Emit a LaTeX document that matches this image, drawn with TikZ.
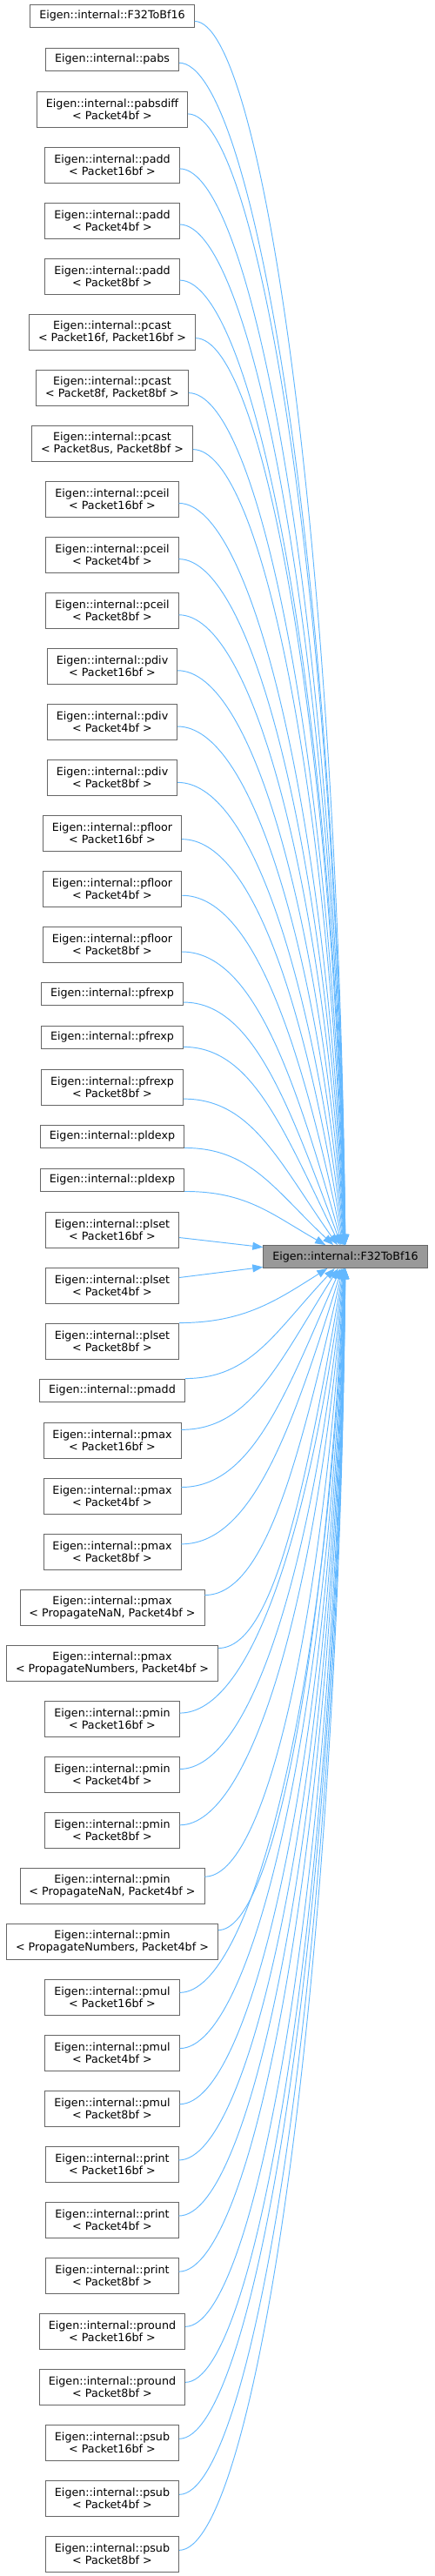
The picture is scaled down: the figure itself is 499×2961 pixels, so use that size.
\documentclass[tikz,border=0pt]{standalone}
\usepackage{fontspec}
\setmainfont{DejaVu Sans}
\usetikzlibrary{calc,arrows.meta}
\definecolor{edgecol}{HTML}{63B8FF}
\definecolor{boxline}{HTML}{666666}
\definecolor{boxfill}{HTML}{999999}
\begin{document}
\begin{tikzpicture}[x=1pt,y=1pt,
  box/.style={draw=boxline, line width=0.9pt, fill=white, inner xsep=10.5pt, inner ysep=0pt,
    align=center, font=\fontsize{12.7}{14}\selectfont, text=black},
  one/.style={box, minimum height=26pt},
  two/.style={box, minimum height=41pt},
  edge/.style={draw=edgecol, line width=0.95pt, -{Triangle[length=12pt,width=9pt]}}]
\useasboundingbox (0,0) rectangle (499,-2961);

% one-line nodes
\foreach \i/\yy/\nm in {1/18/F32ToBf16, 2/68/pabs, 19/1142/pfrexp, 20/1192/pfrexp,
  22/1306/pldexp, 23/1356/pldexp, 27/1598/pmadd}
  {\node[one] (n\i) at (129,-\yy) {Eigen::internal::\nm};}

% two-line nodes
\foreach \i/\yy/\nm/\arg in {
  3/125.5/pabsdiff/Packet4bf, 4/189.5/padd/Packet16bf, 5/253.5/padd/Packet4bf,
  6/317.5/padd/Packet8bf, 7/381.5/pcast/{Packet16f, Packet16bf},
  8/445.5/pcast/{Packet8f, Packet8bf}, 9/509.5/pcast/{Packet8us, Packet8bf},
  10/573.5/pceil/Packet16bf, 11/637.5/pceil/Packet4bf, 12/701.5/pceil/Packet8bf,
  13/765.5/pdiv/Packet16bf, 14/829.5/pdiv/Packet4bf, 15/893.5/pdiv/Packet8bf,
  16/957.5/pfloor/Packet16bf, 17/1021.5/pfloor/Packet4bf, 18/1085.5/pfloor/Packet8bf,
  21/1249.5/pfrexp/Packet8bf,
  24/1413.5/plset/Packet16bf, 25/1477.5/plset/Packet4bf, 26/1541.5/plset/Packet8bf,
  28/1655.5/pmax/Packet16bf, 29/1719.5/pmax/Packet4bf, 30/1783.5/pmax/Packet8bf,
  31/1847.5/pmax/{PropagateNaN, Packet4bf}, 32/1911.5/pmax/{PropagateNumbers, Packet4bf},
  33/1975.5/pmin/Packet16bf, 34/2039.5/pmin/Packet4bf, 35/2103.5/pmin/Packet8bf,
  36/2167.5/pmin/{PropagateNaN, Packet4bf}, 37/2231.5/pmin/{PropagateNumbers, Packet4bf},
  38/2295.5/pmul/Packet16bf, 39/2359.5/pmul/Packet4bf, 40/2423.5/pmul/Packet8bf,
  41/2487.5/print/Packet16bf, 42/2551.5/print/Packet4bf, 43/2615.5/print/Packet8bf,
  44/2679.5/pround/Packet16bf, 45/2743.5/pround/Packet8bf,
  46/2807.5/psub/Packet16bf, 47/2871.5/psub/Packet4bf, 48/2935.5/psub/Packet8bf}
  {\node[two] (n\i) at (129,-\yy) {Eigen::internal::\nm\\< \arg{} >};}

% target
\node[one, fill=boxfill] (t) at (397,-1444.5) {Eigen::internal::F32ToBf16};

% edges from nodes above
\foreach \i in {1,...,23}{
  \draw[edge] let \p1=(n\i.east), \p2=(n\i.north east), \p3=(t.north),
    \n1={(\y2)-(\y1)},
    \n2={(\y1)+1444.5},
    \n4={268/(\n2)},
    \n3={0.18*(\n4)*(\n4)*(\n4)/(0.1+0.3*(\n4)*(\n4))},
    \n5={min(\n1,(0.0005+0.3/(\n2))*((\x1)-129)*((\x1)-129))},
    \n6={(\x3)-13*(\n3)},
    \n7={(\y1)-(\n5)},
    \n8={0.58*((\n7)-(\y3))}
  in (\x1,\n7) .. controls ({(\x1)+0.44*((\n6)-(\x1))},\n7) and ({(\n6)-(\n3)*(\n8)},{(\y3)+(\n8)}) .. (\n6,\y3);
}

% edges from nodes below
\foreach \i in {26,...,48}{
  \draw[edge] let \p1=(n\i.east), \p2=(n\i.north east), \p3=(t.south),
    \n1={(\y2)-(\y1)},
    \n2={-1444.5-(\y1)},
    \n4={268/(\n2)},
    \n3={0.18*(\n4)*(\n4)*(\n4)/(0.1+0.3*(\n4)*(\n4))},
    \n5={min(\n1,(0.0005+0.3/(\n2))*((\x1)-129)*((\x1)-129))},
    \n6={(\x3)-13*(\n3)},
    \n7={(\y1)+(\n5)},
    \n8={0.58*((\y3)-(\n7))}
  in (\x1,\n7) .. controls ({(\x1)+0.44*((\n6)-(\x1))},\n7) and ({(\n6)-(\n3)*(\n8)},{(\y3)-(\n8)}) .. (\n6,\y3);
}

% nearly level edges
\draw[edge] ($(n24.east)+(0,-9)$) -- (t);
\draw[edge] ($(n25.east)+(0,9)$) -- (t);
\end{tikzpicture}
\end{document}
